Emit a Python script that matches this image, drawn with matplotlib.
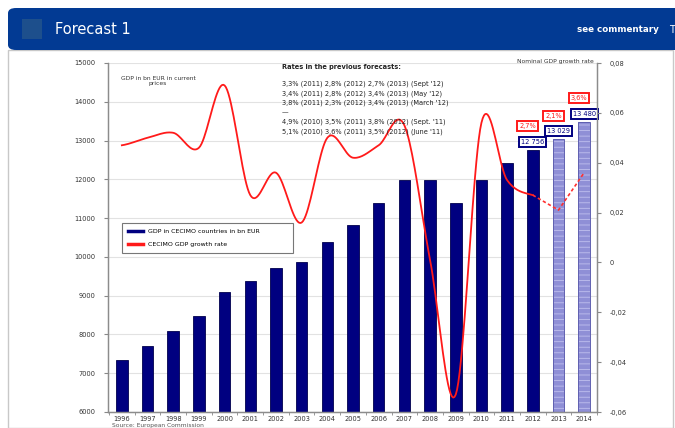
import numpy as np
import matplotlib
matplotlib.use("Agg")
import matplotlib.pyplot as plt
from matplotlib.patches import FancyBboxPatch, Rectangle
from matplotlib.lines import Line2D

years = list(range(1996, 2015))
gdp = [7340, 7700, 8090, 8470, 9090, 9380, 9710, 9870, 10380, 10820,
       11380, 11990, 11990, 11380, 11990, 12420, 12756, 13029, 13480]
growth = [0.047, 0.050, 0.052, 0.046, 0.071, 0.027, 0.036, 0.016, 0.050, 0.042,
          0.047, 0.055, 0.001, -0.053, 0.056, 0.033, 0.027, 0.021, 0.036]
n_actual = 17  # 1996-2012 actual, 2013-2014 forecast
label_growth = ["2,7%", "2,1%", "3,6%"]
label_gdp = ["12 756", "13 029", "13 480"]
prev_forecasts = [
    "3,3% (2011) 2,8% (2012) 2,7% (2013) (Sept '12)",
    "3,4% (2011) 2,8% (2012) 3,4% (2013) (May '12)",
    "3,8% (2011) 2,3% (2012) 3,4% (2013) (March '12)",
    "\u2014",
    "4,9% (2010) 3,5% (2011) 3,8% (2012) (Sept. '11)",
    "5,1% (2010) 3,6% (2011) 3,5% (2012) (June '11)",
]

W, H = 675, 428
fig = plt.figure(figsize=(W / 100, H / 100), dpi=100)
plt.rcParams["hatch.linewidth"] = 0.6

def fx(px):
    return px / W

def fy(py):
    return 1 - py / H

# header banner and white panel
fig.patches.append(Rectangle((fx(8), fy(428)), fx(665), fy(50) - fy(428),
                             transform=fig.transFigure, facecolor="white",
                             edgecolor="#c8c8c8", lw=1.0, zorder=-5))
fig.patches.append(FancyBboxPatch((fx(8), fy(50)), fx(680), fy(8) - fy(50),
                                  boxstyle="round,pad=0,rounding_size=0.012",
                                  transform=fig.transFigure, facecolor="#023a93",
                                  edgecolor="none", zorder=-4))
fig.patches.append(Rectangle((fx(22), fy(39)), fx(20), fy(19) - fy(39),
                             transform=fig.transFigure, facecolor="#1d4f8c",
                             edgecolor="none", zorder=-3))
fig.text(fx(55), fy(29), "Forecast 1", color="white", fontsize=10.5,
         va="center")
fig.text(fx(577), fy(30), "see commentary", color="white", fontsize=6.3,
         va="center", fontweight="bold")
fig.text(fx(669), fy(30), "T", color="white", fontsize=7, va="center")

# main chart
ax = fig.add_axes([fx(108), fy(412), fx(597) - fx(108), fy(63) - fy(412)])
ax.patch.set_alpha(0)
ax2 = ax.twinx()

x = np.array(years, dtype=float)
ax.bar(x[:n_actual], gdp[:n_actual], width=0.45, color="#000080",
       edgecolor="#00004d", lw=0.6, zorder=2)
ax.bar(x[n_actual:], gdp[n_actual:], width=0.45, color="#8f8fd6",
       edgecolor="#c0c0ee", hatch="---", lw=0, zorder=2)
ax.bar(x[n_actual:], gdp[n_actual:], width=0.45, color="none",
       edgecolor="#6060b0", lw=0.7, zorder=3)

ax.set_xlim(1995.46, 2014.35)
ax.set_ylim(6000, 15000)
ax.set_yticks(range(6000, 15001, 1000))
ax.yaxis.grid(True, color="#e2e2e2", lw=0.8)
ax.set_axisbelow(True)
ax.set_xticks(years)
ax.set_xticklabels([str(y) for y in years], fontsize=4.8, color="#333333")
ax.set_xticks(np.arange(1995.5, 2014.6, 1), minor=True)
ax.tick_params(axis="x", which="major", length=0, pad=3)
ax.tick_params(axis="x", which="minor", length=2.5, color="#888888")
ax.tick_params(axis="y", labelsize=4.8, labelcolor="#333333", length=3,
               color="#888888", pad=6)
for a in (ax, ax2):
    a.spines["top"].set_visible(False)
    for s in ["left", "right", "bottom"]:
        a.spines[s].set_color("#8c8c8c")
        a.spines[s].set_linewidth(0.9)

# smoothed growth-rate line (Catmull-Rom, like Excel's smoothed line)
def smooth(xs, ys, steps=20):
    xs = np.asarray(xs, float)
    ys = np.asarray(ys, float)
    px = np.concatenate([[2 * xs[0] - xs[1]], xs, [2 * xs[-1] - xs[-2]]])
    py = np.concatenate([[ys[0]], ys, [ys[-1]]])
    outx, outy = [], []
    for i in range(1, len(px) - 2):
        t = np.linspace(0, 1, steps, endpoint=False)
        for arr, out in ((px, outx), (py, outy)):
            p0, p1, p2, p3 = arr[i - 1], arr[i], arr[i + 1], arr[i + 2]
            out.extend(0.5 * (2 * p1 + (-p0 + p2) * t
                              + (2 * p0 - 5 * p1 + 4 * p2 - p3) * t ** 2
                              + (-p0 + 3 * p1 - 3 * p2 + p3) * t ** 3))
    outx.append(xs[-1])
    outy.append(ys[-1])
    return outx, outy

sx, sy = smooth(years[:n_actual], growth[:n_actual])
ax2.plot(sx, sy, color="#ff1a1a", lw=1.3, zorder=4)
ax2.plot(years[n_actual - 1:], growth[n_actual - 1:], color="#ff3030", lw=1.2,
         ls=(0, (2, 1.5)), zorder=4)
ax2.set_ylim(-0.06, 0.08)
rticks = np.arange(-0.06, 0.081, 0.02)
ax2.set_yticks(rticks)
ax2.set_yticklabels(["0" if abs(v) < 1e-9 else f"{v:.2f}".replace(".", ",")
                     for v in rticks])
ax2.tick_params(axis="y", labelsize=4.8, labelcolor="#333333", length=3,
                color="#888888", pad=6)

# value boxes on last three bars
for i, (g, v) in enumerate(zip(label_growth, label_gdp)):
    yr = years[n_actual - 1 + i]
    val = gdp[n_actual - 1 + i]
    ax.text(yr, val + 210, v, fontsize=4.8, color="#000080", ha="center",
            va="center", zorder=6,
            bbox=dict(boxstyle="square,pad=0.3", fc="white", ec="#000080", lw=1.4))
    ax.text(yr - 0.2, val + 610, g, fontsize=4.8, color="#ff1a1a", ha="center",
            va="center", zorder=6,
            bbox=dict(boxstyle="square,pad=0.3", fc="white", ec="#ff1a1a", lw=1.4))

# annotations
fig.text(fx(158), fy(81), "GDP in bn EUR in current\nprices", fontsize=4.3,
         color="#333333", ha="center", va="center", linespacing=1.1)
fig.text(fx(282), fy(67), "Rates in the previous forecasts:", fontsize=4.8,
         color="#222222", fontweight="bold", va="center")
for k, line in enumerate(prev_forecasts):
    fig.text(fx(282), fy(84 + k * 9.5), line, fontsize=4.8, color="#222222",
             va="center")
fig.text(fx(594), fy(62), "Nominal GDP growth rate", fontsize=4.3,
         color="#333333", ha="right", va="center")
fig.text(fx(112), fy(426), "Source: European Commission", fontsize=4.3,
         color="#555555", va="center")

handles = [Line2D([], [], color="#000080", lw=2.5),
           Line2D([], [], color="#ff1a1a", lw=2.5)]
leg = fig.legend(handles, ["GDP in CECIMO countries in bn EUR",
                           "CECIMO GDP growth rate"],
                 loc="upper left", mode="expand",
                 bbox_to_anchor=(fx(122), fy(254), fx(171), fy(223) - fy(254)),
                 fontsize=4.5, fancybox=False, edgecolor="#777777",
                 framealpha=1, handlelength=2.5, borderpad=0.9,
                 labelspacing=1.2, borderaxespad=0)
leg.get_frame().set_linewidth(0.8)
leg.set_zorder(10)

fig.savefig("out.png", dpi=100)
plt.close(fig)
